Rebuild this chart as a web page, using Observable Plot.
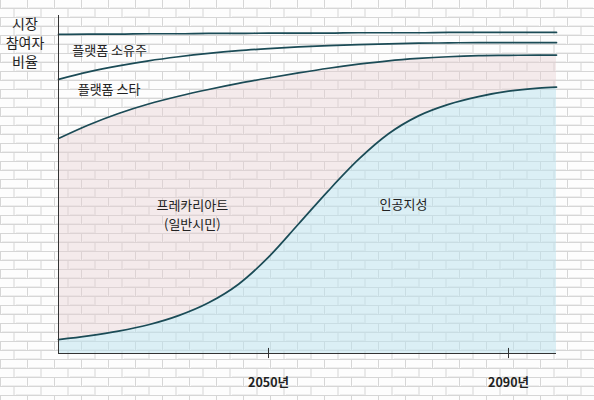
<!DOCTYPE html>
<html>
<head>
<meta charset="utf-8">
<script src="https://cdn.jsdelivr.net/npm/d3@7"></script>
<script src="https://cdn.jsdelivr.net/npm/@observablehq/plot@0.6"></script>
<style>
  html, body { margin: 0; padding: 0; }
  body {
    width: 594px; height: 400px; overflow: hidden; position: relative;
    font-family: "Noto Sans CJK KR", "Noto Sans", sans-serif;
    background-color: #fdfdfd;
    background-image: url("data:image/svg+xml;utf8,<svg xmlns='http://www.w3.org/2000/svg' width='54' height='18'><rect width='54' height='18' fill='%23fdfdfd'/><g stroke='%23d6d6d6' stroke-width='1'><line x1='0' y1='8.5' x2='54' y2='8.5'/><line x1='0' y1='17.5' x2='54' y2='17.5'/><line x1='0.5' y1='0' x2='0.5' y2='9'/><line x1='27.5' y1='0' x2='27.5' y2='9'/><line x1='14' y1='9' x2='14' y2='18'/><line x1='41' y1='9' x2='41' y2='18'/></g><g stroke='%23eeeeee' stroke-width='1'><line x1='2' y1='7.5' x2='26' y2='7.5'/><line x1='29' y1='7.5' x2='53' y2='7.5'/><line x1='16' y1='16.5' x2='40' y2='16.5'/></g></svg>");
  }
  #ylabel {
    position: absolute; left: 0; top: 14px; width: 50px;
    text-align: center; font-size: 14px; line-height: 19px; color: #222;
  }
  #chart { position: absolute; left: 0; top: 0; }
</style>
</head>
<body>
<div id="ylabel">시장<br>참여자<br>비율</div>
<div id="chart"></div>
<script>
// Years (x) and shares of market participants (%, y)
const years      = [2015, 2020, 2025, 2030, 2035, 2040, 2045, 2050, 2055, 2060, 2065, 2070, 2075, 2080, 2085, 2090, 2095, 2098];
const ownerTop   = [94.4, 94.5, 94.5, 94.6, 94.6, 94.7, 94.7, 94.8, 94.8, 94.8, 94.9, 94.9, 94.9, 95.0, 95.0, 95.0, 95.0, 95.0];
const starTop    = [81.1, 83.3, 85.1, 86.6, 87.8, 88.8, 89.6, 90.2, 90.7, 91.1, 91.4, 91.6, 91.8, 91.9, 92.0, 92.0, 92.0, 92.0];
const precTop    = [63.6, 67.6, 71.0, 73.8, 76.1, 78.1, 79.9, 81.5, 83.0, 84.4, 85.6, 86.6, 87.3, 87.8, 88.1, 88.2, 88.3, 88.3];
const aiTop      = [4.1, 5.2, 6.6, 8.5, 11.2, 15.0, 20.5, 28.5, 38.3, 48.2, 57.4, 65.0, 70.3, 73.7, 76.0, 77.6, 78.5, 78.8];

const tickYears  = [2050, 2090];
// Annotations: left-aligned platform labels, centred area labels
const sideText   = ["플랫폼 소유주", "플랫폼 스타"];
const sideYear   = [2017.3, 2018.2];
const sideShare  = [89.6, 78.1];
const midText    = ["프레카리아트\n(일반시민)", "인공지성"];
const midYear    = [2037.3, 2072.5];
const midShare   = [41.4, 44.4];

const rows = years.map((year, i) => ({
  year, owner: ownerTop[i], star: starTop[i], prec: precTop[i], ai: aiTop[i]
}));
const sideLabels = sideText.map((text, i) => ({ text, year: sideYear[i], share: sideShare[i] }));
const midLabels = midText.map((text, i) => ({ text, year: midYear[i], share: midShare[i] }));

const lineColor = "#1b4b56";
const curve = "monotone-x";

const chart = Plot.plot({
  width: 594,
  height: 400,
  marginLeft: 58,
  marginRight: 38,
  marginTop: 15,
  marginBottom: 47,
  style: { background: "transparent", fontFamily: "'Noto Sans CJK KR', sans-serif" },
  x: { domain: [2015, 2098], label: null },
  y: { domain: [0, 100], axis: null },
  marks: [
    Plot.areaY(rows, { x: "year", y1: "ai", y2: "prec", fill: "#e6cfd2", fillOpacity: 0.42, curve }),
    Plot.areaY(rows, { x: "year", y1: 0, y2: "ai", fill: "#bfe3ef", fillOpacity: 0.55, curve }),
    Plot.lineY(rows, { x: "year", y: "owner", stroke: lineColor, strokeWidth: 1.7, curve }),
    Plot.lineY(rows, { x: "year", y: "star", stroke: lineColor, strokeWidth: 1.7, curve }),
    Plot.lineY(rows, { x: "year", y: "prec", stroke: lineColor, strokeWidth: 1.7, curve }),
    Plot.lineY(rows, { x: "year", y: "ai", stroke: lineColor, strokeWidth: 1.7, curve }),
    Plot.ruleX([2015], { stroke: "#333", strokeWidth: 1 }),
    Plot.ruleY([0], { stroke: "#333", strokeWidth: 1 }),
    Plot.ruleX(tickYears, { y1: -1.5, y2: 1.5, stroke: "#333", strokeWidth: 1 }),
    Plot.axisX(tickYears, {
      label: null, tickSize: 0, tickPadding: 25, tickFormat: d => d + "년",
      fontSize: 12.5, fontWeight: "bold", fill: "#222"
    }),
    Plot.text(sideLabels, {
      x: "year", y: "share", text: "text", textAnchor: "start",
      fontSize: 13, fill: "#222"
    }),
    Plot.text(midLabels, {
      x: "year", y: "share", text: "text", textAnchor: "middle",
      fontSize: 13, fill: "#222", lineHeight: 1.45
    })
  ]
});
document.getElementById("chart").appendChild(chart);
</script>
</body>
</html>
